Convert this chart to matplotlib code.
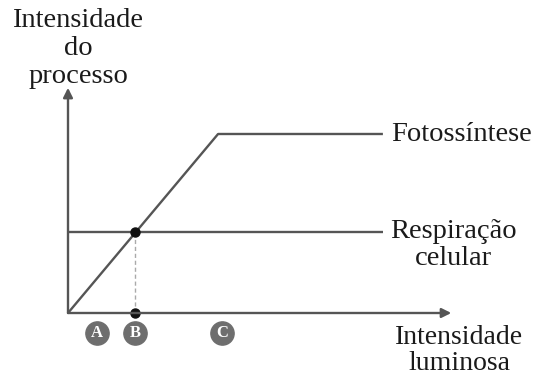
import matplotlib
matplotlib.use("Agg")
from matplotlib import pyplot as plt

# curve data (arbitrary units)
luz = [0, 2.24, 4.7]
fotossintese = [0, 2.21, 2.21]
luz_resp = [0, 4.7]
respiracao = [1, 1]
ponto_b = 1.0
letras = ["A", "B", "C"]
pos_letras = [0.43, 1.0, 2.3]

plt.rcParams['font.family'] = ['Liberation Serif', 'DejaVu Serif']
cor = "#555555"
txt = "#1a1a1a"

fig = plt.figure(figsize=(5.34, 3.76), dpi=100)
ax = fig.add_axes([0, 0, 1, 1])
ax.set_xlim(-68 / 67, 466 / 67)
ax.set_ylim(-63 / 81, 313 / 81)
ax.axis("off")

# axes with arrows
ax.annotate("", xy=(5.72, 0), xytext=(0, 0),
            arrowprops=dict(arrowstyle="-|>", color=cor, lw=1.7,
                            mutation_scale=14, shrinkA=0, shrinkB=0))
ax.annotate("", xy=(0, 2.78), xytext=(0, 0),
            arrowprops=dict(arrowstyle="-|>", color=cor, lw=1.7,
                            mutation_scale=14, shrinkA=0, shrinkB=0))

ax.plot(luz, fotossintese, color=cor, lw=1.7, solid_capstyle="butt")
ax.plot(luz_resp, respiracao, color=cor, lw=1.7, solid_capstyle="butt")
ax.plot([ponto_b, ponto_b], [0, respiracao[0]], color="#aaaaaa", lw=1.0,
        ls=(0, (3, 2)))
ax.plot([ponto_b, ponto_b], [respiracao[0], 0], "o", color="#111111", ms=6.5)

ax.scatter(pos_letras, [-0.247] * 3, s=280, color="#6e6e6e", zorder=3)
for letra, x in zip(letras, pos_letras):
    ax.text(x, -0.247, letra, ha="center", va="center", color="white",
            fontsize=12, fontweight="bold", zorder=4)

fs = 20.5
ax.text(0.149, 3.27, "Intensidade\ndo\nprocesso", ha="center", va="center",
        fontsize=fs, linespacing=1.16, color=txt)
ax.text(4.82, 2.198, "Fotossíntese", ha="left", va="center", fontsize=fs,
        color=txt)
ax.text(5.76, 0.84, "Respiração\ncelular", ha="center", va="center",
        fontsize=fs, linespacing=1.15, color=txt)
ax.text(5.836, -0.46, "Intensidade\nluminosa", ha="center", va="center",
        fontsize=20, linespacing=1.08, color=txt)

fig.savefig("out.png", dpi=100)
